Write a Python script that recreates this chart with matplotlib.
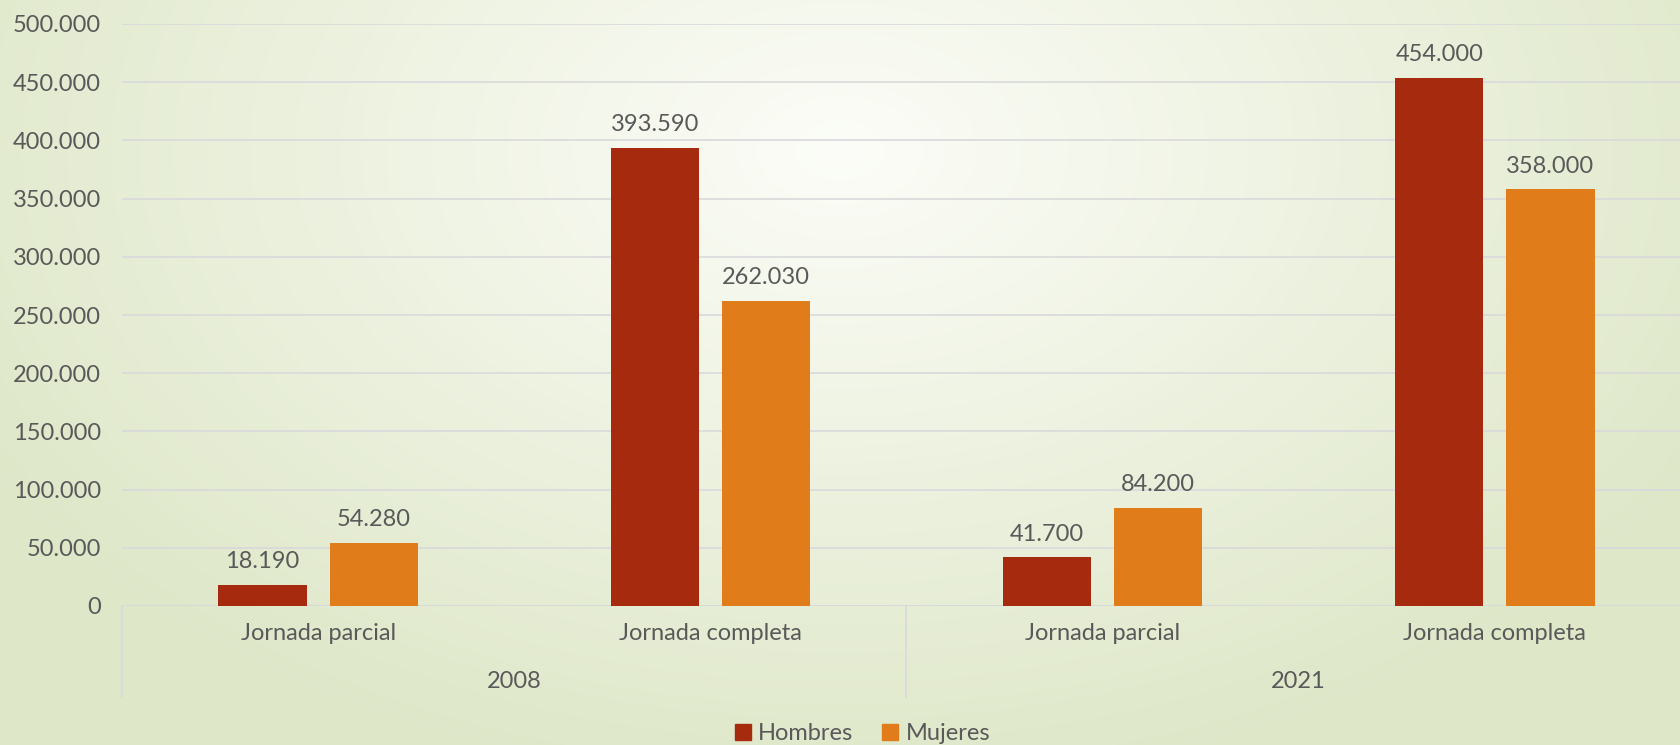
import numpy as np
import matplotlib.pyplot as plt
from matplotlib.patches import Patch
from matplotlib.transforms import blended_transform_factory

# Data
years = ["2008", "2021"]
jornadas = ["Jornada parcial", "Jornada completa"]
hombres = [18190, 393590, 41700, 454000]
mujeres = [54280, 262030, 84200, 358000]

color_h = "#A52A0E"
color_m = "#E07C19"
text_col = "#595959"
grid_col = "#D9D9DC"

plt.rcParams['font.family'] = ['Lato', 'DejaVu Sans']

W, H = 1681, 745
fig = plt.figure(figsize=(W / 100, H / 100), dpi=100)

# soft radial background, pale in the middle, green towards the edges
bg = fig.add_axes([0, 0, 1, 1], zorder=-10)
yy, xx = np.mgrid[0:H, 0:W]
r = np.sqrt(((xx - 840) / 1000.0) ** 2 + ((yy - 150) / 650.0) ** 2)
t = np.clip(r, 0, 1)[..., None]
inner = np.array([252, 253, 248]) / 255.0
outer = np.array([222, 231, 200]) / 255.0
bg.imshow(inner * (1 - t) + outer * t, aspect='auto', interpolation='bilinear')
bg.axis('off')

left, right = 122 / W, 1691 / W
bottom, top = 1 - 606 / H, 1 - 24 / H
ax = fig.add_axes([left, bottom, right - left, top - bottom])
ax.patch.set_alpha(0)

x = np.arange(len(hombres))
bw = 0.225
off = 0.1416
bars_h = ax.bar(x - off, hombres, bw, color=color_h, zorder=3)
bars_m = ax.bar(x + off, mujeres, bw, color=color_m, zorder=3)

def fmt(v):
    return f"{v:,.0f}".replace(",", ".")

for bars, vals in ((bars_h, hombres), (bars_m, mujeres)):
    for b, v in zip(bars, vals):
        ax.annotate(fmt(v), (b.get_x() + b.get_width() / 2, v),
                    xytext=(0, 9), textcoords='offset points',
                    ha='center', va='bottom', fontsize=17, color=text_col)

ax.set_xlim(-0.5, 3.5)
ax.set_ylim(0, 500000)
ax.set_yticks(np.arange(0, 500001, 50000))
ax.set_yticklabels([fmt(v) for v in np.arange(0, 500001, 50000)])
ax.yaxis.grid(True, color=grid_col, linewidth=1.2, zorder=0)
ax.tick_params(axis='y', length=0, pad=15, labelsize=17, labelcolor=text_col)

ax.set_xticks(x)
ax.set_xticklabels(jornadas * 2)
ax.tick_params(axis='x', length=0, pad=12, labelsize=17, labelcolor=text_col)

for s in ax.spines.values():
    s.set_visible(False)
ax.axhline(0, color=grid_col, linewidth=1.2, zorder=2)

# second level of category labels (years) with separators
trans = blended_transform_factory(ax.transData, ax.transAxes)
sep_depth = -(697 - 606) / 582
for xs in (-0.5, 1.5, 3.5):
    ax.plot([xs, xs], [0, sep_depth], transform=trans, color=grid_col,
            linewidth=1.2, clip_on=False)
for i, yr in enumerate(years):
    ax.text(2 * i + 0.5, -(681 - 606) / 582, yr, transform=trans,
            ha='center', va='center', fontsize=17, color=text_col)

handles = [Patch(color=color_h, label="Hombres"), Patch(color=color_m, label="Mujeres")]
fig.legend(handles=handles, loc='center', bbox_to_anchor=(0.513, 0.015), ncol=2,
           frameon=False, fontsize=17, labelcolor=text_col, handlelength=0.7,
           handleheight=0.7, handletextpad=0.3, columnspacing=1.2)

fig.savefig("out.png", dpi=100)
